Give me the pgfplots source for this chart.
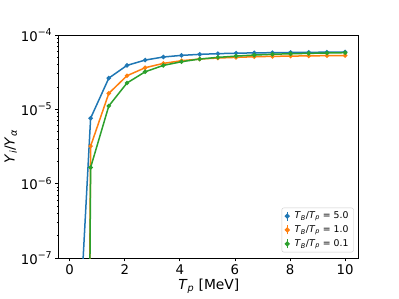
\documentclass[border=0pt]{standalone}
\usepackage{fontspec}
\setmainfont{DejaVu Sans}
\usepackage{pgfplots}
\pgfplotsset{compat=1.18}
\definecolor{tabblue}{HTML}{1F77B4}
\definecolor{taborange}{HTML}{FF7F0E}
\definecolor{tabgreen}{HTML}{2CA02C}
\newcommand{\sub}[1]{\textsubscript{\textit{#1}}}
\newcommand{\tp}[1]{10\raisebox{0.75ex}{\fontsize{9.5}{9.5}\selectfont −#1}}
\begin{document}
\begin{tikzpicture}[x=1pt,y=1pt]
\path[use as bounding box] (0,0) rectangle (399,299);
\begin{axis}[
  at={(58.8pt,41pt)}, anchor=south west,
  scale only axis, width=300pt, height=223pt,
  xmin=-0.395, xmax=10.495,
  ymode=log, ymin=1e-7, ymax=1e-4,
  xtick={0,2,4,6,8,10},
  ytick={1e-7,1e-6,1e-5,1e-4},
  yticklabels={\tp{7},\tp{6},\tp{5},\tp{4}},
  tick align=outside, xtick pos=bottom, ytick pos=left,
  major tick length=3.5pt, minor tick length=2pt,
  tick style={black, line width=0.8pt},
  axis line style={line width=0.9pt},
  ticklabel style={font=\fontsize{13.3}{15}\selectfont},
  /pgf/number format/assume math mode=true,
  xlabel={\textit{T}\sub{p} [MeV]},
  ylabel={\textit{Y}\sub{i}/\textit{Y}\sub{α}},
  label style={font=\fontsize{13.8}{15}\selectfont},
  xlabel style={yshift=3pt},
  ylabel style={yshift=-3pt},
  legend style={at={(0.983,0.0256)}, anchor=south east,
    font=\fontsize{9.3}{11}\selectfont, draw=black!20, rounded corners=2pt,
    row sep=1.5pt},
  legend cell align=left,
]
\addplot[tabblue, line width=1.5pt, mark=*, mark size=1.4pt,
  legend image code/.code={\draw[tabblue,line width=1.1pt](0.25cm,-4.5pt)--(0.25cm,4.5pt);\fill[tabblue](0.25cm,0pt) circle (1.7pt);}]
coordinates {(0.1,2e-10)(0.76,7.6e-6)(1.42,2.63e-5)(2.08,3.9e-5)(2.74,4.6e-5)(3.4,5.06e-5)(4.06,5.32e-5)(4.72,5.49e-5)(5.38,5.61e-5)(6.04,5.69e-5)(6.7,5.75e-5)(7.36,5.78e-5)(8.02,5.82e-5)(8.68,5.85e-5)(9.34,5.87e-5)(10,5.9e-5)};
\addlegendentry{\hspace{3pt}\textit{T}\sub{B}/\textit{T}\sub{p} = 5.0}
\addplot[taborange, line width=1.5pt, mark=*, mark size=1.4pt,
  legend image code/.code={\draw[taborange,line width=1.1pt](0.25cm,-4.5pt)--(0.25cm,4.5pt);\fill[taborange](0.25cm,0pt) circle (1.7pt);}]
coordinates {(0.1,1e-40)(0.76,3.2e-6)(1.42,1.64e-5)(2.08,2.83e-5)(2.74,3.63e-5)(3.4,4.15e-5)(4.06,4.51e-5)(4.72,4.75e-5)(5.38,4.9e-5)(6.04,5.0e-5)(6.7,5.1e-5)(7.36,5.16e-5)(8.02,5.2e-5)(8.68,5.24e-5)(9.34,5.27e-5)(10,5.3e-5)};
\addlegendentry{\hspace{3pt}\textit{T}\sub{B}/\textit{T}\sub{p} = 1.0}
\addplot[tabgreen, line width=1.5pt, mark=*, mark size=1.4pt,
  legend image code/.code={\draw[tabgreen,line width=1.1pt](0.25cm,-4.5pt)--(0.25cm,4.5pt);\fill[tabgreen](0.25cm,0pt) circle (1.7pt);}]
coordinates {(0.1,1e-40)(0.76,1.65e-6)(1.42,1.11e-5)(2.08,2.26e-5)(2.74,3.2e-5)(3.4,3.9e-5)(4.06,4.37e-5)(4.72,4.75e-5)(5.38,5.0e-5)(6.04,5.2e-5)(6.7,5.37e-5)(7.36,5.5e-5)(8.02,5.6e-5)(8.68,5.66e-5)(9.34,5.73e-5)(10,5.78e-5)};
\addlegendentry{\hspace{3pt}\textit{T}\sub{B}/\textit{T}\sub{p} = 0.1}
\end{axis}
\end{tikzpicture}
\end{document}
